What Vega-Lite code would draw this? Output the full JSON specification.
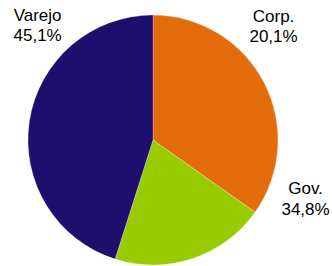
{
  "$schema": "https://vega.github.io/schema/vega-lite/v6.json",
  "width": 306,
  "height": 252,
  "autosize": "none",
  "padding": {"left": 0, "top": 14, "right": 26, "bottom": 0},
  "background": "white",
  "config": {"view": {"stroke": null}},
  "datasets": {
    "slices": [
      {"segment": "Gov.", "value": 34.8, "ord": 1},
      {"segment": "Corp.", "value": 20.1, "ord": 2},
      {"segment": "Varejo", "value": 45.1, "ord": 3}
    ],
    "labels": [
      {"label": "Varejo\n45,1%", "angle": 315.9, "r": 165.8},
      {"label": "Corp.\n20,1%", "angle": 45.6, "r": 168.7},
      {"label": "Gov.\n34,8%", "angle": 109.5, "r": 161.8}
    ]
  },
  "layer": [
    {
      "data": {"name": "slices"},
      "mark": {"type": "arc", "outerRadius": 125, "stroke": "#ffffff", "strokeWidth": 0.5, "strokeOpacity": 0.5},
      "encoding": {
        "theta": {"field": "value", "type": "quantitative", "stack": true},
        "order": {"field": "ord", "type": "quantitative"},
        "color": {
          "field": "segment",
          "type": "nominal",
          "scale": {"domain": ["Gov.", "Corp.", "Varejo"], "range": ["#E46C0A", "#99CC00", "#1E0F6E"]},
          "legend": null
        }
      }
    },
    {
      "data": {"name": "labels"},
      "mark": {"type": "text", "align": "center", "baseline": "alphabetic", "lineBreak": "\n", "lineHeight": 20.5, "font": "Liberation Sans", "fontSize": 17, "color": "#000000"},
      "encoding": {
        "theta": {"field": "angle", "type": "quantitative", "stack": null, "scale": {"type": "linear", "domain": [0, 360], "range": [0, 6.283185307179586]}},
        "radius": {"field": "r", "type": "quantitative", "scale": {"type": "linear", "domain": [0, 200], "range": [0, 200], "zero": true}},
        "text": {"field": "label", "type": "nominal"}
      }
    }
  ],
  "resolve": {"scale": {"theta": "independent", "radius": "independent", "color": "independent"}}
}
